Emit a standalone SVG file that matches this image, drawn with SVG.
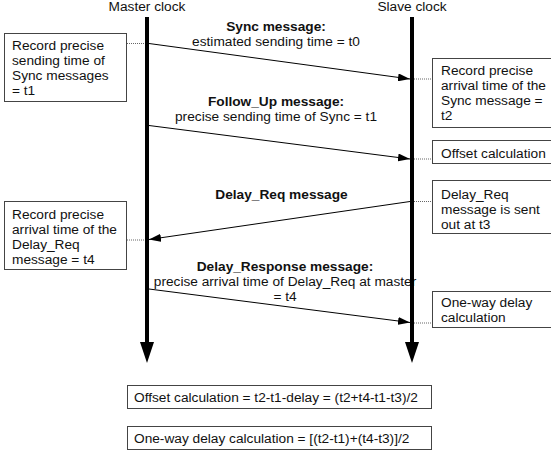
<svg xmlns="http://www.w3.org/2000/svg" width="551" height="454" viewBox="0 0 551 454">
<style>
text{font-family:"Liberation Sans",Arial,sans-serif;font-size:13.7px;fill:#111}
.b{font-weight:bold}
.m{text-anchor:middle}
.box{fill:#fff;stroke:#444;stroke-width:1}
.life{stroke:#000;stroke-width:4}
.msg{stroke:#000;stroke-width:1;fill:none}
.dot{stroke:#666;stroke-width:1;stroke-dasharray:1,1}
</style>
<defs>
<marker id="ah" viewBox="0 0 12 8" refX="12" refY="4" markerWidth="12" markerHeight="8" markerUnits="userSpaceOnUse" orient="auto">
<path d="M0,0 L12,4 L0,8 Z" fill="#000"/>
</marker>
</defs>
<rect width="551" height="454" fill="#fff"/>
<g id="label-sync">
<text class="m b" x="276" y="31">Sync message:</text>
<text class="m" x="276" y="46">estimated sending time = t0</text>
</g>
<g id="label-followup">
<text class="m b" x="276" y="106">Follow_Up message:</text>
<text class="m" x="276" y="121">precise sending time of Sync = t1</text>
</g>
<g id="label-delayreq">
<text class="m b" x="281.5" y="199">Delay_Req message</text>
</g>
<g id="label-delayresp">
<text class="m b" x="285" y="271">Delay_Response message:</text>
<text class="m" x="285" y="286">precise arrival time of Delay_Req at master</text>
<text class="m" x="285" y="301">= t4</text>
</g>
<g id="master">
<text class="m" x="147" y="11">Master clock</text>
<line class="life" x1="147" y1="17" x2="147" y2="344"/>
<path d="M140,342 L154,342 L147,363 Z" fill="#000"/>
</g>
<g id="slave">
<text class="m" x="412" y="11">Slave clock</text>
<line class="life" x1="412" y1="17" x2="412" y2="344"/>
<path d="M405,342 L419,342 L412,363 Z" fill="#000"/>
</g>
<g id="connectors">
<line class="msg" x1="149" y1="43.5" x2="410" y2="79" marker-end="url(#ah)"/>
<line class="msg" x1="149" y1="125.5" x2="410" y2="159" marker-end="url(#ah)"/>
<line class="msg" x1="410" y1="201.5" x2="149" y2="239.5" marker-end="url(#ah)"/>
<line class="msg" x1="149" y1="289" x2="410" y2="322.5" marker-end="url(#ah)"/>
<line class="dot" x1="127" y1="43.5" x2="145" y2="43.5"/>
<line class="dot" x1="414" y1="79" x2="432" y2="79"/>
<line class="dot" x1="414" y1="159" x2="432" y2="159"/>
<line class="dot" x1="414" y1="201.5" x2="432" y2="201.5"/>
<line class="dot" x1="127" y1="240" x2="145" y2="240"/>
<line class="dot" x1="414" y1="323" x2="432" y2="323"/>
</g>
<g id="box-l1">
<rect class="box" x="4.5" y="33.5" width="122" height="68"/>
<text x="12" y="50">Record precise</text>
<text x="12" y="65">sending time of</text>
<text x="12" y="80">Sync messages</text>
<text x="12" y="95">= t1</text>
</g>
<g id="box-r1">
<rect class="box" x="432.5" y="58.5" width="130" height="69"/>
<text x="441" y="75">Record precise</text>
<text x="441" y="90">arrival time of the</text>
<text x="441" y="105">Sync message =</text>
<text x="441" y="120">t2</text>
</g>
<g id="box-r2">
<rect class="box" x="432.5" y="140.5" width="130" height="23"/>
<text x="441" y="158">Offset calculation</text>
</g>
<g id="box-r3">
<rect class="box" x="432.5" y="180.5" width="130" height="53"/>
<text x="441" y="198.5">Delay_Req</text>
<text x="441" y="213.5">message is sent</text>
<text x="441" y="228.5">out at t3</text>
</g>
<g id="box-l2">
<rect class="box" x="4.5" y="201.5" width="122" height="68"/>
<text x="12" y="218.5">Record precise</text>
<text x="12" y="233.5">arrival time of the</text>
<text x="12" y="248.5">Delay_Req</text>
<text x="12" y="263.5">message = t4</text>
</g>
<g id="box-r4">
<rect class="box" x="432.5" y="291.5" width="130" height="36"/>
<text x="441" y="307">One-way delay</text>
<text x="441" y="322">calculation</text>
</g>
<g id="box-offset">
<rect class="box" x="127.5" y="385.5" width="304" height="23"/>
<text x="134" y="402">Offset calculation = t2-t1-delay = (t2+t4-t1-t3)/2</text>
</g>
<g id="box-delay">
<rect class="box" x="127.5" y="426.5" width="304" height="23"/>
<text x="134" y="443">One-way delay calculation = [(t2-t1)+(t4-t3)]/2</text>
</g>
</svg>
